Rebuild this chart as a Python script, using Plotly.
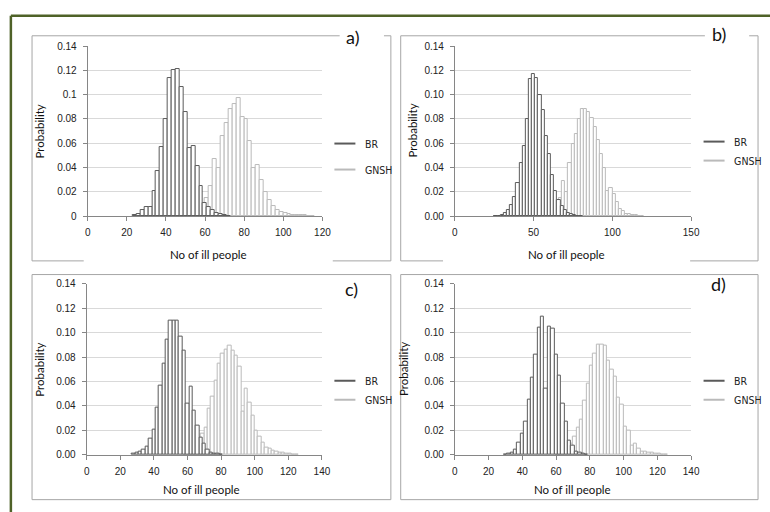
import plotly.graph_objects as go

# ---------------- data ----------------
# panel a
a_br_x = [24, 26, 28, 30, 32, 34, 36, 38, 40, 42, 44, 46, 48, 50, 52, 54, 56, 58, 60, 62, 64, 66, 68, 70, 72]
a_br_y = [0.001, 0.002, 0.005, 0.0075, 0.0075, 0.021, 0.037, 0.057, 0.080, 0.114, 0.120, 0.121, 0.106,
          0.086, 0.056, 0.058, 0.041, 0.025, 0.011, 0.0075, 0.005, 0.003, 0.0015, 0.001, 0.0005]
a_gn_x = [53, 55, 57, 59, 61, 63, 65, 67, 69, 71, 73, 75, 77, 79, 81, 83, 85, 87, 89, 91, 93, 95, 97, 99,
          101, 103, 105, 107, 109, 111, 113, 115]
a_gn_y = [0.0005, 0.001, 0.004, 0.009, 0.015, 0.025, 0.047, 0.040, 0.066, 0.077, 0.088, 0.092, 0.097, 0.082,
          0.080, 0.062, 0.040, 0.042, 0.030, 0.020, 0.013, 0.008, 0.005, 0.0035, 0.0025, 0.0015, 0.001,
          0.0008, 0.0006, 0.0006, 0.0004, 0.0003]

# panel b
b_br_x = [26, 28, 30, 32, 34, 36, 38, 40, 42, 44, 46, 48, 50, 52, 54, 56, 58, 60, 62, 64, 66, 68, 70, 72,
          74, 76, 78, 80]
b_br_y = [0.0003, 0.0005, 0.001, 0.003, 0.005, 0.009, 0.016, 0.027, 0.044, 0.058, 0.080, 0.113, 0.117,
          0.114, 0.100, 0.087, 0.066, 0.051, 0.034, 0.021, 0.013, 0.008, 0.005, 0.003, 0.0015, 0.001,
          0.0005, 0.0003]
b_gn_x = [61, 63, 65, 67, 69, 71, 73, 75, 77, 79, 81, 83, 85, 87, 89, 91, 93, 95, 97, 99, 101, 103, 105,
          107, 109, 111, 113, 115, 117, 119]
b_gn_y = [0.001, 0.003, 0.006, 0.015, 0.029, 0.020, 0.044, 0.059, 0.068, 0.080, 0.088, 0.088, 0.086, 0.081,
          0.073, 0.063, 0.051, 0.040, 0.021, 0.023, 0.018, 0.012, 0.006, 0.004, 0.002, 0.0015, 0.001,
          0.0008, 0.0005, 0.0003]

# panel c
c_br_x = [28, 30, 32, 34, 36, 38, 40, 42, 44, 46, 48, 50, 52, 54, 56, 58, 60, 62, 64, 66, 68, 70, 72, 74,
          76, 78, 80]
c_br_y = [0.001, 0.0015, 0.003, 0.004, 0.007, 0.013, 0.021, 0.039, 0.057, 0.075, 0.094, 0.110, 0.110,
          0.110, 0.097, 0.085, 0.042, 0.056, 0.036, 0.024, 0.014, 0.009, 0.004, 0.002, 0.001, 0.0008,
          0.0005]
c_gn_x = [59, 61, 63, 65, 67, 69, 71, 73, 75, 77, 79, 81, 83, 85, 87, 89, 91, 93, 95, 97, 99, 101, 103,
          105, 107, 109, 111, 113, 115, 117, 119, 121, 123, 125]
c_gn_y = [0.001, 0.002, 0.004, 0.007, 0.011, 0.017, 0.022, 0.038, 0.048, 0.061, 0.075, 0.083, 0.086, 0.089,
          0.0855, 0.081, 0.072, 0.035, 0.054, 0.043, 0.032, 0.020, 0.015, 0.0098, 0.006, 0.0048, 0.0035,
          0.0025, 0.002, 0.0015, 0.001, 0.0008, 0.0005, 0.0003]

# panel d
d_br_x = [30, 32, 34, 36, 38, 40, 42, 44, 46, 48, 50, 52, 54, 56, 58, 60, 62, 64, 66, 68, 70, 72, 74, 76, 78]
d_br_y = [0.0005, 0.001, 0.002, 0.004, 0.010, 0.017, 0.027, 0.045, 0.063, 0.082, 0.104, 0.113, 0.054,
          0.105, 0.103, 0.082, 0.065, 0.042, 0.027, 0.012, 0.008, 0.003, 0.002, 0.001, 0.0005]
d_gn_x = [61, 63, 65, 67, 69, 71, 73, 75, 77, 79, 81, 83, 85, 87, 89, 91, 93, 95, 97, 99, 101, 103, 105,
          107, 109, 111, 113, 115, 117, 119, 121, 123, 125]
d_gn_y = [0.0005, 0.001, 0.003, 0.006, 0.009, 0.015, 0.022, 0.029, 0.044, 0.058, 0.073, 0.083, 0.090, 0.090,
          0.089, 0.077, 0.070, 0.064, 0.047, 0.041, 0.023, 0.020, 0.008, 0.009, 0.005, 0.003, 0.0025,
          0.002, 0.0015, 0.001, 0.0008, 0.0005, 0.0003]

series_names = ["BR", "GNSH"]
panel_labels = ["a)", "b)", "c)", "d)"]
x_ranges = [[0, 120], [0, 150], [0, 140], [0, 140]]
x_dticks = [20, 50, 20, 20]
y_formats = ["", ".2f", ".2f", ".2f"]
x_title = "No of ill people"
y_title = "Probability"

# ---------------- styling / layout ----------------
W, H = 770, 512
def px(x):
    return x / W
def py(y):
    return 1 - y / H

BR_COL = "#5a5a5a"
GN_COL = "#bababa"
AX_COL = "#868686"
GRID = "#d9d9d9"
FRAME = "#a6a6a6"
TICKFONT = dict(family="Liberation Sans, Arial, sans-serif", size=10, color="#222222")
TITLEFONT = dict(family="Lato, Open Sans, sans-serif", size=11.5, color="#111111")
LEGFONT = dict(family="Liberation Sans Narrow, Arial Narrow, DejaVu Sans Condensed, sans-serif",
               size=10.5, color="#222222")

panels = [
    dict(bx=a_br_x, by=a_br_y, gx=a_gn_x, gy=a_gn_y,
         xd=[86, 324.5], yd=[215.3, 41]),
    dict(bx=b_br_x, by=b_br_y, gx=b_gn_x, gy=b_gn_y,
         xd=[459, 699], yd=[215.3, 41]),
    dict(bx=c_br_x, by=c_br_y, gx=c_gn_x, gy=c_gn_y,
         xd=[85, 324], yd=[459.7, 284.3]),
    dict(bx=d_br_x, by=d_br_y, gx=d_gn_x, gy=d_gn_y,
         xd=[459, 699], yd=[459.7, 284.3]),
]

legend_pos = [  # (x px of legend left, y px of legend top, group gap)
    (327, 126, 7),
    (702, 124, 0),
    (327, 369, 0),
    (702, 369, 0),
]

fig = go.Figure()
layout = dict(
    width=W, height=H, margin=dict(l=0, r=0, t=0, b=0),
    paper_bgcolor="white", plot_bgcolor="white",
    barmode="overlay", bargap=0, showlegend=True,
)

for i, p in enumerate(panels):
    k = "" if i == 0 else str(i + 1)
    xa, ya = "x" + k, "y" + k
    leg = "legend" + k
    # GNSH first, BR drawn on top
    fig.add_trace(go.Bar(x=p["gx"], y=p["gy"], width=2, xaxis=xa, yaxis=ya,
                         marker=dict(color="white", line=dict(color=GN_COL, width=1.0)),
                         showlegend=False, name=series_names[1], hoverinfo="x+y"))
    fig.add_trace(go.Bar(x=p["bx"], y=p["by"], width=2, xaxis=xa, yaxis=ya,
                         marker=dict(color="white", line=dict(color=BR_COL, width=1.0)),
                         showlegend=False, name=series_names[0], hoverinfo="x+y"))
    # legend keys (short horizontal strokes)
    for nm, col in zip(series_names, [BR_COL, GN_COL]):
        fig.add_trace(go.Scatter(x=[None], y=[None], xaxis=xa, yaxis=ya, mode="markers",
                                 name=nm, legend=leg, legendgroup=nm + k,
                                 marker=dict(symbol="line-ew", size=15, color=col,
                                             line=dict(color=col, width=2))))
    lx, ly, gap = legend_pos[i]
    layout[leg] = dict(x=px(lx), y=py(ly), xanchor="left", yanchor="top",
                       font=LEGFONT, bgcolor="rgba(0,0,0,0)", borderwidth=0,
                       tracegroupgap=gap, traceorder="grouped", itemwidth=30)

    xaxis = dict(domain=[px(p["xd"][0]), px(p["xd"][1])], range=x_ranges[i],
                 dtick=x_dticks[i], tick0=0, anchor=ya,
                 showgrid=False, zeroline=False, showline=True, linecolor=AX_COL, linewidth=1,
                 ticks="outside", ticklen=4, tickcolor=AX_COL, tickfont=TICKFONT,
                 ticklabelstandoff=3)
    yaxis = dict(domain=[py(p["yd"][0]), py(p["yd"][1])], range=[0, 0.14],
                 dtick=0.02, tick0=0, anchor=xa, tickformat=y_formats[i],
                 showgrid=True, gridcolor=GRID, gridwidth=1, zeroline=False,
                 showline=True, linecolor=AX_COL, linewidth=1,
                 ticks="outside", ticklen=4, tickcolor=AX_COL, tickfont=TICKFONT,
                 ticklabelstandoff=4)
    layout["xaxis" + k] = xaxis
    layout["yaxis" + k] = yaxis

# ---------------- text ----------------
ann = []
ytitle_pos = [(37, 128), (415, 128), (37, 372), (407, 372)]
xtitle_pos = [(208.5, 254), (572.5, 254), (202, 495), (579, 495)]
label_pos = [(355.5, 32), (727, 29), (354, 290), (726.5, 285)]
for i in range(4):
    ann.append(dict(text=y_title, x=px(ytitle_pos[i][0]), y=py(ytitle_pos[i][1]), xref="paper",
                    yref="paper", showarrow=False, textangle=-90, font=TITLEFONT,
                    xanchor="center", yanchor="middle"))
    ann.append(dict(text=x_title, x=px(xtitle_pos[i][0]), y=py(xtitle_pos[i][1]), xref="paper",
                    yref="paper", showarrow=False, font=TITLEFONT,
                    xanchor="center", yanchor="middle"))
    ann.append(dict(text=panel_labels[i], x=px(label_pos[i][0]), y=py(label_pos[i][1]), xref="paper",
                    yref="paper", showarrow=False,
                    font=dict(family="Lato, Open Sans, sans-serif", size=18, color="#111111"),
                    xanchor="center", yanchor="middle"))
layout["annotations"] = ann

# ---------------- frames ----------------
shapes = []
def seg(x0, y0, x1, y1, col=FRAME, w=1):
    shapes.append(dict(type="line", xref="paper", yref="paper",
                       x0=px(x0), y0=py(y0), x1=px(x1), y1=py(y1),
                       line=dict(color=col, width=w), layer="below"))

# panel a frame (top broken by label, bottom broken by axis title)
seg(29.5, 30.5, 342, 30.5); seg(387, 30.5, 394, 30.5)
seg(29.5, 30.5, 29.5, 261); seg(394, 30.5, 394, 261)
seg(29.5, 261, 82, 261); seg(335, 261, 394, 261)
# panel b frame
seg(404, 30.5, 713, 30.5); seg(758, 30.5, 767, 30.5)
seg(404, 30.5, 404, 261); seg(767, 30.5, 767, 261)
seg(404, 261, 447, 261); seg(698, 261, 767, 261)
# panel c frame
seg(29.5, 275, 394, 275); seg(29.5, 505.5, 394, 505.5)
seg(29.5, 275, 29.5, 505.5); seg(394, 275, 394, 505.5)
# panel d frame
seg(404, 275, 767, 275); seg(404, 505.5, 767, 505.5)
seg(404, 275, 404, 505.5); seg(767, 275, 767, 505.5)
# outer olive frame
seg(8, 10, 8, 520, col="#4f6228", w=2.5)
seg(8, 10, 780, 10, col="#4f6228", w=2.5)
layout["shapes"] = shapes

fig.update_layout(**layout)
fig.write_html("out.html")
